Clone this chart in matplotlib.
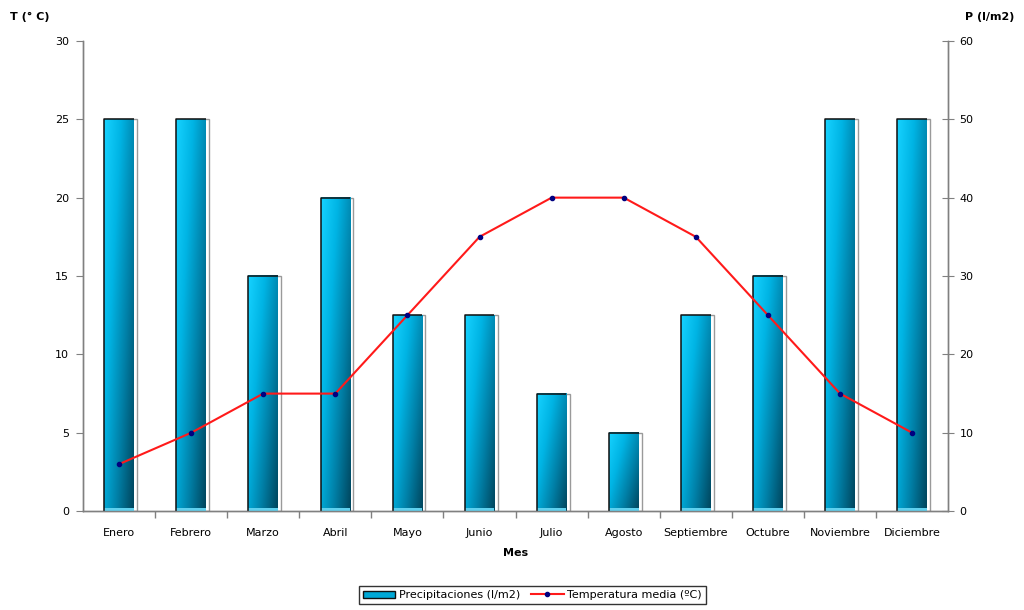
import numpy as np
import matplotlib
matplotlib.use("Agg")
import matplotlib.pyplot as plt
from matplotlib.colors import LinearSegmentedColormap
from matplotlib.patches import Rectangle
from matplotlib.lines import Line2D

plt.rcParams['font.family'] = ['DejaVu Sans']

meses = ["Enero", "Febrero", "Marzo", "Abril", "Mayo", "Junio", "Julio",
         "Agosto", "Septiembre", "Octubre", "Noviembre", "Diciembre"]
precipitaciones = [50, 50, 30, 40, 25, 25, 15, 10, 25, 30, 50, 50]
temperatura = [3, 5, 7.5, 7.5, 12.5, 17.5, 20, 20, 17.5, 12.5, 7.5, 5]

FS = 8

fig = plt.figure(figsize=(10.24, 6.10), dpi=100)
ax = fig.add_axes([0.081, 0.162, 0.845, 0.771])
ax2 = ax.twinx()

x = np.arange(len(meses))
bar_w = 0.41
shadow = 0.045

cmap = LinearSegmentedColormap.from_list(
    "barra", ["#16d2ff", "#00b4e4", "#007fa6", "#00465e"])

# gradient-filled bars on the precipitation axis
for xi, h in zip(x, precipitaciones):
    x0, x1 = xi - bar_w / 2, xi + bar_w / 2
    # grey drop-shadow frame to the right
    ax2.add_patch(Rectangle((x0 + shadow, 0), bar_w, h, facecolor="white",
                            edgecolor="#9a9a9a", linewidth=1.0, zorder=1))
    nx, ny = 40, 80
    gx = np.linspace(0, 1, nx)[None, :]
    gy = np.linspace(0, 1, ny)[:, None]  # 0 at bottom
    t = 0.62 * gx + 0.45 * (1 - gy)
    t = t / t.max()
    ax2.imshow(t, cmap=cmap, extent=[x0, x1, 0, h], origin="lower",
               aspect="auto", zorder=2, interpolation="bilinear")
    ax2.add_patch(Rectangle((x0, 0), bar_w, 0.45, facecolor="#5fd0ee",
                            edgecolor="none", zorder=3))
    ax2.plot([x0, x0, x1], [0, h, h], color="#101010", lw=1.1, zorder=4,
             solid_capstyle="butt")

ax2.set_ylim(0, 60)
ax2.set_yticks(np.arange(0, 61, 10))
ax2.set_xlim(-0.5, len(meses) - 0.5)

# temperature line
ax.plot(x, temperatura, color="#ff1a1a", lw=1.5, marker="o", markersize=3,
        markerfacecolor="#000080", markeredgecolor="#000080", zorder=5)
ax.set_ylim(0, 30)
ax.set_yticks(np.arange(0, 31, 5))
ax.set_xlim(-0.5, len(meses) - 0.5)
ax.set_zorder(ax2.get_zorder() + 1)
ax.patch.set_visible(False)

ax.set_xticks(x)
ax.set_xticklabels(meses)
ax.set_xticks(np.arange(0.5, len(meses) - 0.5, 1), minor=True)
ax.tick_params(axis="x", which="major", length=0, pad=12, labelsize=FS)
ax.tick_params(axis="x", which="minor", length=5, color="#808080", width=1)
ax.tick_params(axis="y", length=5, color="#808080", labelsize=FS, pad=5)
ax2.tick_params(axis="y", length=8, direction="inout", color="#808080",
                labelsize=FS, pad=4)

for a in (ax, ax2):
    a.spines["top"].set_visible(False)
    for s in ("left", "right", "bottom"):
        a.spines[s].set_color("#808080")
        a.spines[s].set_linewidth(1.0)

ax.set_xlabel("Mes", fontsize=FS, fontweight="bold", labelpad=7)

fig.text(0.010, 0.972, "T (° C)", fontsize=FS, fontweight="bold",
         ha="left", va="center")
fig.text(0.942, 0.972, "P (l/m2)", fontsize=FS, fontweight="bold",
         ha="left", va="center")

handles = [
    Rectangle((0, 0), 1, 1, facecolor="#00a8d6", edgecolor="#101010", lw=1),
    Line2D([], [], color="#ff1a1a", lw=1.5, marker="o", markersize=3,
           markerfacecolor="#000080", markeredgecolor="#000080"),
]
leg = fig.legend(handles, ["Precipitaciones (l/m2)", "Temperatura media (ºC)"],
                 loc="center", bbox_to_anchor=(0.52, 0.0245), ncol=2,
                 fontsize=FS, frameon=True, fancybox=False, handlelength=2.9,
                 handleheight=0.6, columnspacing=1.0, handletextpad=0.35,
                 borderpad=0.35, borderaxespad=0)
leg.get_frame().set_edgecolor("#000000")
leg.get_frame().set_linewidth(1.0)

fig.savefig("out.png", dpi=100)
